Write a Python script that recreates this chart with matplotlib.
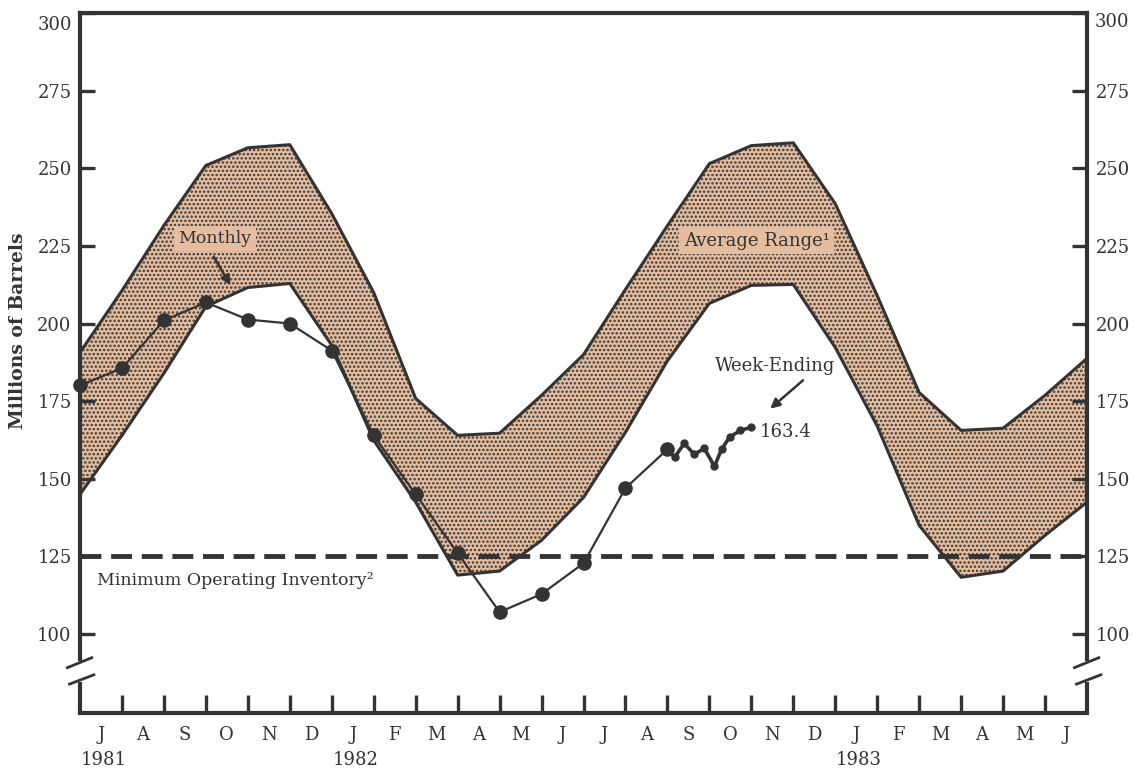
import matplotlib.pyplot as plt

# month letters from Jul 1981 to Jun 1983, written at month centres
months = ['J', 'A', 'S', 'O', 'N', 'D', 'J', 'F', 'M', 'A', 'M', 'J',
          'J', 'A', 'S', 'O', 'N', 'D', 'J', 'F', 'M', 'A', 'M', 'J']
years = ['1981', '1982', '1983']
year_month = [0, 6, 18]

# average range, end-of-month values (end Jun 1981 .. end Jun 1983)
range_high = [190.7, 210.6, 231.6, 250.9, 256.6, 257.6, 235.4, 210.0, 175.9,
              164.0, 164.7, 176.9, 190.0, 211.0, 231.5, 251.5, 257.3, 258.2,
              238.6, 209.0, 177.8, 165.6, 166.3, 176.9, 188.8]
range_low = [145.0, 164.0, 184.0, 205.5, 211.6, 212.9, 193.0, 162.4, 142.5,
             119.0, 120.3, 130.2, 144.0, 165.0, 188.0, 206.5, 212.3, 212.6,
             192.3, 167.0, 135.0, 118.3, 120.3, 131.8, 142.5]

# monthly inventory, end Jun 1981 .. end Aug 1982
monthly = [180.1, 185.6, 201.0, 206.8, 201.3, 200.0, 191.3, 164.0, 145.0,
           126.1, 107.1, 112.9, 122.8, 147.0, 159.5]

# week-ending inventory, Sep - Oct 1982 (x in months)
week_x = [14.0, 14.17, 14.4, 14.64, 14.88, 15.12, 15.29, 15.48, 15.74, 16.0]
weekly = [159.5, 156.9, 161.4, 157.9, 159.8, 154.0, 159.5, 163.4, 165.6, 166.6]
last_week_label = '163.4'

min_inventory = 125
yticks = list(range(100, 301, 25))

ink = '#333333'
tan = '#e6bd9e'

plt.rcParams['font.family'] = 'DejaVu Serif'
plt.rcParams['hatch.color'] = '#3a3a3a'
plt.rcParams['hatch.linewidth'] = 1.2

fig = plt.figure(figsize=(11.33, 7.71), dpi=100)
ax = fig.add_axes([80/1133, 1-713/771, (1087-80)/1133, (713-13)/771])
ymin, ymax = 74.6, 300
ax.set_xlim(0, 24)
ax.set_ylim(ymin, ymax)

xb = list(range(len(range_high)))
ax.fill_between(xb, range_low, range_high, facecolor=tan, edgecolor='#3a3a3a',
                hatch='....', linewidth=0, zorder=1)
ax.plot(xb, range_high, color=ink, lw=2.2, zorder=2)
ax.plot(xb, range_low, color=ink, lw=2.2, zorder=2)

ax.axhline(min_inventory, color=ink, lw=3.5, dashes=(4.3, 2.0), zorder=3)

xm = list(range(len(monthly)))
ax.plot(xm, monthly, color=ink, lw=1.6, marker='o', ms=9.5, zorder=5, clip_on=False)
ax.plot(week_x, weekly, color=ink, lw=2.6, marker='o', ms=5, zorder=5)

# spines with axis break
for s in ax.spines.values():
    s.set_linewidth(3)
    s.set_color(ink)
brk_lo, brk_hi = 84.5, 92.0
ax.spines['left'].set_bounds(brk_hi, ymax)
ax.spines['right'].set_bounds(brk_hi, ymax)
for xe in (0, 24):
    ax.plot([xe, xe], [ymin, brk_lo], color=ink, lw=3, clip_on=False,
            solid_capstyle='butt', zorder=6)
    ax.plot([xe-0.3, xe+0.28], [89.2, 92.4], color=ink, lw=2, clip_on=False, zorder=6)
    ax.plot([xe-0.25, xe+0.33], [83.9, 86.9], color=ink, lw=2, clip_on=False, zorder=6)

# top label (300) sits just under the frame, drawn separately
ax.set_yticks(yticks, [str(v) for v in yticks[:-1]] + [''])
ax.tick_params(axis='y', which='major', direction='in', length=11, width=2.4,
               left=True, right=True, labelleft=True, labelright=True,
               labelsize=13, pad=6, color=ink, labelcolor=ink)
ax.text(-0.19, yticks[-1] - 4, str(yticks[-1]), ha='right', va='center',
        fontsize=13, color=ink, clip_on=False)
ax.text(24.19, yticks[-1] - 3, str(yticks[-1]), ha='left', va='center',
        fontsize=13, color=ink, clip_on=False)

ax.set_xticks(range(1, 24))
ax.set_xticks([i + 0.5 for i in range(24)], months, minor=True)
ax.tick_params(axis='x', which='major', direction='in', length=13, width=2.4,
               labelbottom=False, color=ink)
ax.tick_params(axis='x', which='minor', length=0, labelsize=13, pad=9,
               labelcolor=ink)

for yr, m in zip(years, year_month):
    ax.text(m + 0.57, 59.5, yr, ha='center', va='center', fontsize=13,
            color=ink, clip_on=False)

# labels
ax.text(3.22, 227.4, 'Monthly', ha='center', va='center', fontsize=12.5, color=ink,
        bbox=dict(boxstyle='square,pad=0.25', fc=tan, ec='none'), zorder=7)
ax.annotate('', xy=(3.62, 211.6), xytext=(3.15, 222.3),
            arrowprops=dict(arrowstyle='-|>', color=ink, lw=1.8, mutation_scale=14),
            zorder=7)
ax.text(16.13, 226.7, 'Average Range\u00b9', ha='center', va='center', fontsize=13,
        color=ink, bbox=dict(boxstyle='square,pad=0.25', fc=tan, ec='none'), zorder=7)
ax.text(16.56, 186.2, 'Week-Ending', ha='center', va='center', fontsize=13, color=ink)
ax.annotate('', xy=(16.4, 172.0), xytext=(17.28, 182.3),
            arrowprops=dict(arrowstyle='-|>', color=ink, lw=1.8, mutation_scale=14))
ax.text(week_x[-1] + 0.2, 165.0, last_week_label, ha='left', va='center',
        fontsize=13, color=ink)
ax.text(0.4, 117.4, 'Minimum Operating Inventory\u00b2', ha='left', va='center',
        fontsize=12.5, color=ink)

fig.text(18/1133, 1-331/771, 'Millions of Barrels', rotation=90, fontweight='bold',
         fontsize=13.5, ha='center', va='center', color=ink)

fig.savefig('out.png', dpi=100)
